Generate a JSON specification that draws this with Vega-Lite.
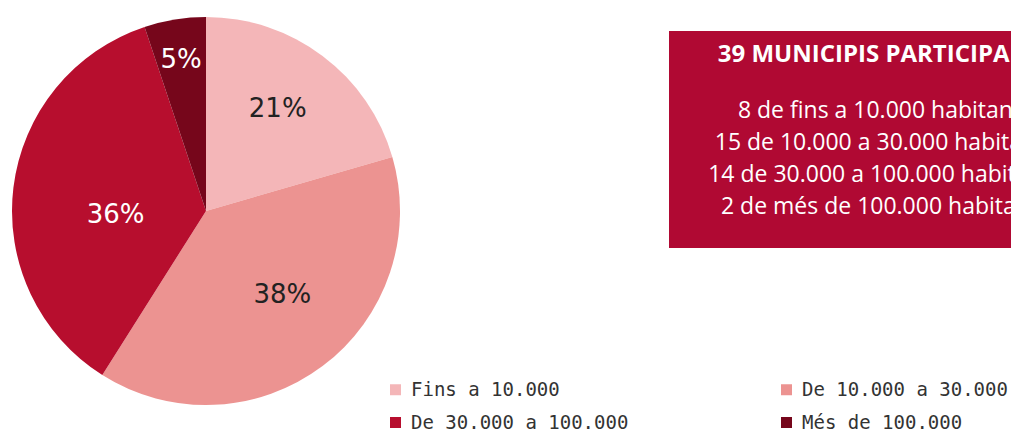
{
  "$schema": "https://vega.github.io/schema/vega-lite/v6.json",
  "padding": 0,
  "autosize": {"type": "pad"},
  "background": "white",
  "bounds": "flush",
  "spacing": 257,
  "config": {"view": {"stroke": null}},
  "datasets": {
    "pie": [
      {"poblacio": "Fins a 10.000", "municipis": 8, "etiqueta": "21%", "ordre": 1},
      {"poblacio": "De 10.000 a 30.000", "municipis": 15, "etiqueta": "38%", "ordre": 2},
      {"poblacio": "De 30.000 a 100.000", "municipis": 14, "etiqueta": "36%", "ordre": 3},
      {"poblacio": "Més de 100.000", "municipis": 2, "etiqueta": "5%", "ordre": 4}
    ],
    "linies": [
      {"linia": "8 de fins a 10.000 habitants"},
      {"linia": "15 de 10.000 a 30.000 habitants"},
      {"linia": "14 de 30.000 a 100.000 habitants"},
      {"linia": "2 de més de 100.000 habitants"}
    ]
  },
  "hconcat": [
    {
      "width": 412,
      "height": 422,
      "data": {"name": "pie"},
      "encoding": {
        "theta": {"field": "municipis", "type": "quantitative", "stack": true},
        "order": {"field": "ordre", "type": "quantitative"},
        "detail": {"field": "poblacio", "type": "nominal"}
      },
      "layer": [
        {
          "mark": {"type": "arc", "outerRadius": 194},
          "encoding": {
            "color": {
              "field": "poblacio",
              "type": "nominal",
              "scale": {
                "domain": ["Fins a 10.000", "De 30.000 a 100.000", "De 10.000 a 30.000", "Més de 100.000"],
                "range": ["#f4b6b8", "#b70e2e", "#ec9391", "#76061b"]
              },
              "legend": {
                "title": null,
                "orient": "none",
                "legendX": 386,
                "legendY": 380,
                "columns": 2,
                "columnPadding": 148,
                "rowPadding": 13,
                "padding": 0,
                "symbolType": "square",
                "symbolSize": 121,
                "symbolStrokeWidth": 0,
                "symbolOpacity": 1,
                "labelFont": "DejaVu Sans Mono",
                "labelFontSize": 19,
                "labelColor": "#333333",
                "labelOffset": 6,
                "labelLimit": 400
              }
            }
          }
        },
        {
          "mark": {"type": "text", "radius": 126, "font": "DejaVu Sans", "fontSize": 26, "dx": -4, "dy": -1},
          "encoding": {
            "text": {"condition": {"test": "datum.ordre === 1", "field": "etiqueta"}, "value": ""},
            "color": {"value": "#222222"}
          }
        },
        {
          "mark": {"type": "text", "radius": 112, "font": "DejaVu Sans", "fontSize": 26, "dx": 9, "dy": -6},
          "encoding": {
            "text": {"condition": {"test": "datum.ordre === 2", "field": "etiqueta"}, "value": ""},
            "color": {"value": "#222222"}
          }
        },
        {
          "mark": {"type": "text", "radius": 93, "font": "DejaVu Sans", "fontSize": 26, "dx": 2, "dy": 15},
          "encoding": {
            "text": {"condition": {"test": "datum.ordre === 3", "field": "etiqueta"}, "value": ""},
            "color": {"value": "#ffffff"}
          }
        },
        {
          "mark": {"type": "text", "radius": 155, "font": "DejaVu Sans", "fontSize": 26, "dy": 2},
          "encoding": {
            "text": {"condition": {"test": "datum.ordre === 4", "field": "etiqueta"}, "value": ""},
            "color": {"value": "#ffffff"}
          }
        }
      ]
    },
    {
      "width": 342,
      "height": 437,
      "layer": [
        {
          "data": {"values": [{"caixa": "municipis"}]},
          "mark": {"type": "rect", "color": "#b00933", "clip": true},
          "encoding": {
            "x": {"value": 0},
            "x2": {"value": 342},
            "y": {"value": 31},
            "y2": {"value": 248}
          }
        },
        {
          "data": {"values": [{"titol": "39 MUNICIPIS PARTICIPANTS"}]},
          "mark": {"type": "text", "clip": true, "font": "Open Sans", "fontWeight": "bold", "fontSize": 24, "color": "#ffffff", "align": "center", "baseline": "alphabetic"},
          "encoding": {
            "text": {"field": "titol", "type": "nominal"},
            "x": {"value": 218},
            "y": {"value": 62}
          }
        },
        {
          "data": {"name": "linies"},
          "mark": {"type": "text", "clip": true, "font": "Open Sans", "fontSize": 23, "color": "#ffffff", "align": "center", "baseline": "alphabetic"},
          "encoding": {
            "text": {"field": "linia", "type": "nominal"},
            "x": {"value": 216},
            "y": {"field": "linia", "type": "nominal", "sort": null, "axis": null, "scale": {"type": "point", "range": [118, 214], "padding": 0}}
          }
        }
      ]
    }
  ]
}
